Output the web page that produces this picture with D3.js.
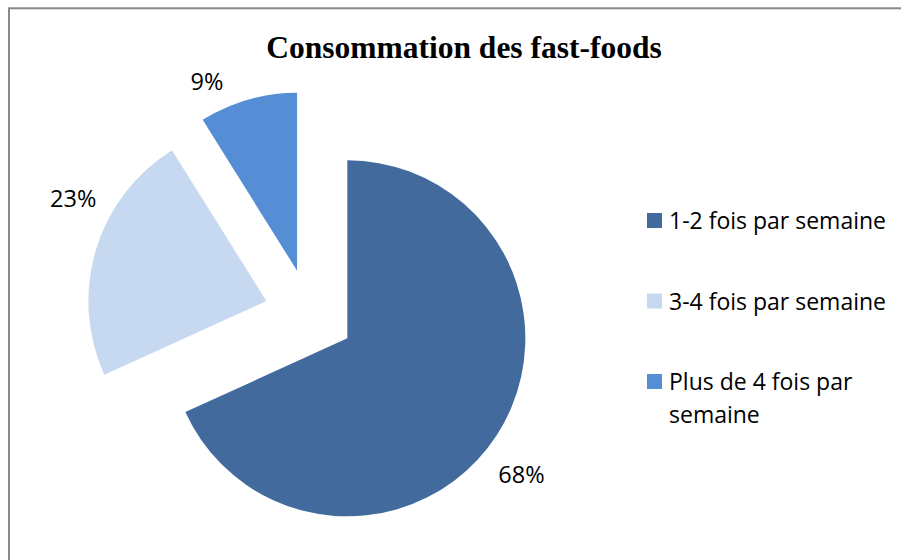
<!DOCTYPE html>
<html>
<head>
<meta charset="utf-8">
<script src="https://cdn.jsdelivr.net/npm/d3@7"></script>
<style>
  html, body { margin: 0; padding: 0; background: #fff; }
  svg { display: block; }
</style>
</head>
<body>
<svg id="chart" width="901" height="560"></svg>
<script>
// ---- data ----
const categories = ["1-2 fois par semaine", "3-4 fois par semaine", "Plus de 4 fois par semaine"];
const legendLines = [["1-2 fois par semaine"], ["3-4 fois par semaine"], ["Plus de 4 fois par", "semaine"]];
const values = [68.2, 22.9, 8.9];
const labels = ["68%", "23%", "9%"];
const colors = ["#426A9C", "#C6D9F1", "#558ED5"];
const title = "Consommation des fast-foods";

// ---- layout ----
const cx = 309.5, cy = 314, radius = 178, explode = 45;
const labelRadius = [266, 263, 254];
const labelShift = [4.4, 9.3, -7.8]; // degrees, label fine placement

const svg = d3.select("#chart");

// frame
svg.append("rect")
  .attr("x", 9).attr("y", 8.3)
  .attr("width", 1000).attr("height", 700)
  .attr("fill", "#fff")
  .attr("stroke", "#898989").attr("stroke-width", 2);

// title
svg.append("text")
  .attr("x", 464).attr("y", 58)
  .attr("text-anchor", "middle")
  .attr("font-family", "'Liberation Serif', 'Times New Roman', serif")
  .attr("font-weight", "bold")
  .attr("font-size", 31.5)
  .attr("fill", "#000")
  .text(title);

const pie = d3.pie().sort(null).value(d => d)(values);
const arc = d3.arc().innerRadius(0).outerRadius(radius);

const g = svg.append("g").attr("transform", `translate(${cx},${cy})`);

g.selectAll("path.slice")
  .data(pie)
  .join("path")
  .attr("class", "slice")
  .attr("fill", (d, i) => colors[i])
  .attr("transform", d => {
    const a = (d.startAngle + d.endAngle) / 2;
    return `translate(${explode * Math.sin(a)},${-explode * Math.cos(a)})`;
  })
  .attr("d", arc);

// data labels
g.selectAll("text.lbl")
  .data(pie)
  .join("text")
  .attr("class", "lbl")
  .attr("text-anchor", "middle")
  .attr("font-family", "'Open Sans', sans-serif")
  .attr("font-size", 23.5)
  .attr("fill", "#000")
  .attr("x", (d, i) => {
    const a = (d.startAngle + d.endAngle) / 2 + labelShift[i] * Math.PI / 180;
    return labelRadius[i] * Math.sin(a);
  })
  .attr("y", (d, i) => {
    const a = (d.startAngle + d.endAngle) / 2 + labelShift[i] * Math.PI / 180;
    return -labelRadius[i] * Math.cos(a) + 8.3;
  })
  .text((d, i) => labels[i]);

// legend
const legend = svg.append("g").attr("transform", "translate(647,213)");
const rowStep = 80.5;
const items = legend.selectAll("g.item")
  .data(categories)
  .join("g")
  .attr("class", "item")
  .attr("transform", (d, i) => `translate(0,${i * rowStep})`);

items.append("rect")
  .attr("width", 15).attr("height", 15)
  .attr("fill", (d, i) => colors[i]);

items.append("text")
  .attr("font-family", "'Open Sans', sans-serif")
  .attr("font-size", 23)
  .attr("fill", "#000")
  .each(function (d, i) {
    const t = d3.select(this);
    legendLines[i].forEach((line, j) => {
      t.append("tspan").attr("x", 22).attr("y", 16 + j * 32.7).text(line);
    });
  });
</script>
</body>
</html>
